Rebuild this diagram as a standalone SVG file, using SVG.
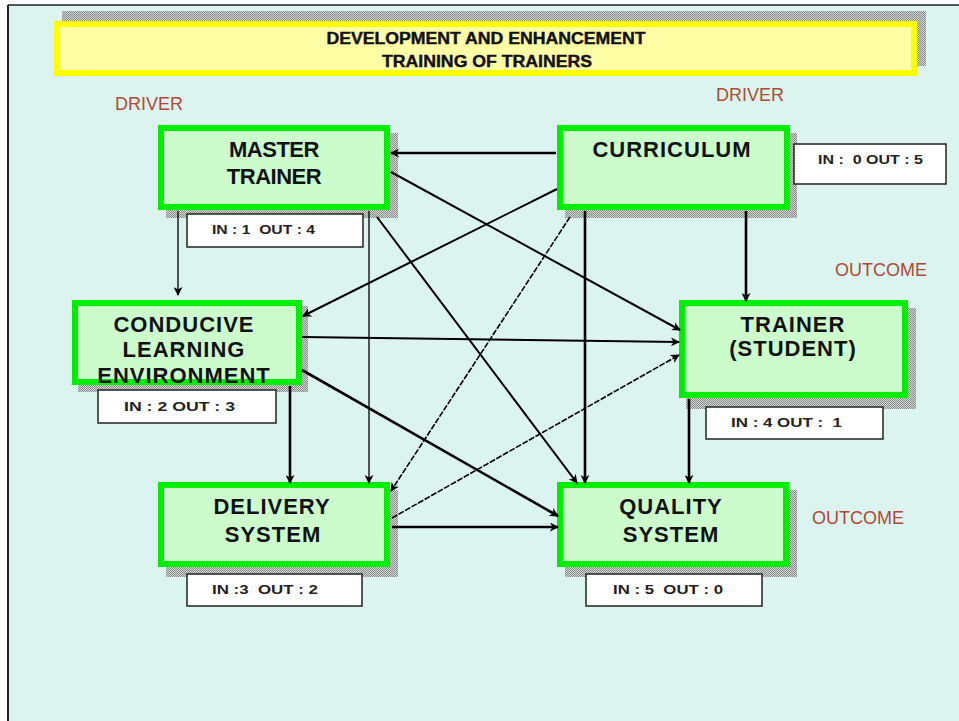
<svg xmlns="http://www.w3.org/2000/svg" width="959" height="721" viewBox="0 0 959 721">
<defs>
<pattern id="dots" width="2" height="2" patternUnits="userSpaceOnUse">
<rect width="2" height="2" fill="#d0d8d6"/>
<rect width="1" height="1" fill="#8a8a8a"/>
<rect x="1" y="1" width="1" height="1" fill="#8a8a8a"/>
</pattern>
<marker id="ah" viewBox="0 0 10 10" refX="9" refY="5" markerWidth="9" markerHeight="9" markerUnits="userSpaceOnUse" orient="auto">
<path d="M0,0 L10,5 L0,10 L3,5 Z" fill="#000"/>
</marker>
</defs>
<style>
.node rect.box{fill:#ccfccc;stroke:#00ee00;stroke-width:6}
.shadow{fill:url(#dots)}
.nt{font-family:"Liberation Sans",Arial,sans-serif;font-weight:bold;font-size:22px;fill:#111;text-anchor:middle;letter-spacing:1px}
.cnt rect{fill:#fff;stroke:#222;stroke-width:1.5}
.ct{font-family:"Liberation Sans",Arial,sans-serif;font-weight:bold;font-size:13px;fill:#222;white-space:pre}
.lab{font-family:"Liberation Sans",Arial,sans-serif;font-size:18px;fill:#b04a35}
.ttl{font-family:"Liberation Sans",Arial,sans-serif;font-weight:bold;font-size:16px;fill:#111;stroke:#111;stroke-width:0.4;text-anchor:middle}
.c{fill:none;stroke:#000}
.thick{stroke-width:2.6}
.med{stroke-width:2}
.thin{stroke-width:1.3}
.dash{stroke-width:1.6;stroke-dasharray:6 1.5}
</style>
<rect width="959" height="721" fill="#ffffff"/>
<rect x="8" y="5" width="951" height="716" fill="#dbf4f0"/>
<line x1="8" y1="5" x2="959" y2="5" stroke="#222" stroke-width="1.5"/>
<line x1="8" y1="5" x2="8" y2="721" stroke="#222" stroke-width="2"/>

<g id="title">
<rect class="shadow" x="62" y="11" width="864" height="55"/>
<rect x="57" y="24" width="857" height="49" fill="#ffffa6" stroke="#ffff00" stroke-width="6"/>
<text class="ttl" x="486" y="44" textLength="319" lengthAdjust="spacingAndGlyphs">DEVELOPMENT AND ENHANCEMENT</text>
<text class="ttl" x="487" y="67" textLength="210" lengthAdjust="spacingAndGlyphs">TRAINING OF TRAINERS</text>
</g>

<g id="labels">
<text class="lab" x="115" y="110">DRIVER</text>
<text class="lab" x="716" y="101">DRIVER</text>
<text class="lab" x="835" y="276">OUTCOME</text>
<text class="lab" x="812" y="524">OUTCOME</text>
</g>

<g id="master-trainer" class="node">
<rect class="shadow" x="166" y="133" width="232" height="85"/>
<rect class="box" x="161" y="128" width="226" height="79"/>
<text class="nt" x="274" y="157" style="letter-spacing:-0.5px">MASTER</text>
<text class="nt" x="274" y="184" style="letter-spacing:-0.5px">TRAINER</text>
<g class="cnt"><rect x="187" y="214" width="176" height="33"/><text class="ct" x="212" y="234" textLength="103" lengthAdjust="spacingAndGlyphs">IN : 1  OUT : 4</text></g>
</g>

<g id="curriculum" class="node">
<rect class="shadow" x="565" y="133" width="232" height="85"/>
<rect class="box" x="560" y="128" width="227" height="79"/>
<text class="nt" x="672" y="157">CURRICULUM</text>
<g class="cnt"><rect x="794" y="144" width="152" height="40"/><text class="ct" x="818" y="164" textLength="105" lengthAdjust="spacingAndGlyphs">IN :  0 OUT : 5</text></g>
</g>

<g id="conducive" class="node">
<rect class="shadow" x="78" y="306" width="230" height="86"/>
<rect class="box" x="75" y="303" width="224" height="79"/>
<text class="nt" x="184" y="332">CONDUCIVE</text>
<text class="nt" x="184" y="357">LEARNING</text>
<text class="nt" x="184" y="383">ENVIRONMENT</text>
<g class="cnt"><rect x="98" y="390" width="178" height="33"/><text class="ct" x="124" y="411" textLength="111" lengthAdjust="spacingAndGlyphs">IN : 2 OUT : 3</text></g>
</g>

<g id="trainer-student" class="node">
<rect class="shadow" x="686" y="308" width="230" height="101"/>
<rect class="box" x="682" y="303" width="223" height="92"/>
<text class="nt" x="793" y="332">TRAINER</text>
<text class="nt" x="793" y="356">(STUDENT)</text>
<g class="cnt"><rect x="706" y="407" width="177" height="32"/><text class="ct" x="731" y="427" textLength="111" lengthAdjust="spacingAndGlyphs">IN : 4 OUT :  1</text></g>
</g>

<g id="delivery-system" class="node">
<rect class="shadow" x="166" y="490" width="232" height="87"/>
<rect class="box" x="161" y="485" width="226" height="79"/>
<text class="nt" x="272" y="514">DELIVERY</text>
<text class="nt" x="273" y="542">SYSTEM</text>
<g class="cnt"><rect x="187" y="574" width="175" height="32"/><text class="ct" x="212" y="594" textLength="106" lengthAdjust="spacingAndGlyphs">IN :3  OUT : 2</text></g>
</g>

<g id="quality-system" class="node">
<rect class="shadow" x="565" y="490" width="232" height="87"/>
<rect class="box" x="560" y="485" width="226" height="79"/>
<text class="nt" x="671" y="514">QUALITY</text>
<text class="nt" x="671" y="542">SYSTEM</text>
<g class="cnt"><rect x="586" y="574" width="176" height="32"/><text class="ct" x="613" y="594" textLength="110" lengthAdjust="spacingAndGlyphs">IN : 5  OUT : 0</text></g>
</g>

<g id="connectors">
<line class="c thick" x1="556" y1="153" x2="391" y2="153" marker-end="url(#ah)"/>
<line class="c med" x1="391" y1="172" x2="680" y2="330" marker-end="url(#ah)"/>
<line class="c med" x1="557" y1="189" x2="303" y2="316" marker-end="url(#ah)"/>
<line class="c med" x1="377" y1="217" x2="577" y2="483" marker-end="url(#ah)"/>
<line class="c dash" x1="570" y1="217" x2="391" y2="491" marker-end="url(#ah)"/>
<line class="c thin" x1="178" y1="211" x2="178" y2="295" marker-end="url(#ah)"/>
<line class="c thin" x1="369" y1="211" x2="369" y2="483" marker-end="url(#ah)"/>
<line class="c thick" x1="585" y1="211" x2="585" y2="483" marker-end="url(#ah)"/>
<line class="c thick" x1="746" y1="211" x2="746" y2="301" marker-end="url(#ah)"/>
<line class="c med" x1="302" y1="337" x2="679" y2="342" marker-end="url(#ah)"/>
<line class="c thick" x1="290" y1="386" x2="290" y2="483" marker-end="url(#ah)"/>
<line class="c thick" x1="302" y1="370" x2="558" y2="516" marker-end="url(#ah)"/>
<line class="c dash" x1="392" y1="518" x2="679" y2="355" marker-end="url(#ah)"/>
<line class="c thick" x1="392" y1="527" x2="558" y2="527" marker-end="url(#ah)"/>
<line class="c thick" x1="689" y1="399" x2="689" y2="483" marker-end="url(#ah)"/>
</g>
</svg>
